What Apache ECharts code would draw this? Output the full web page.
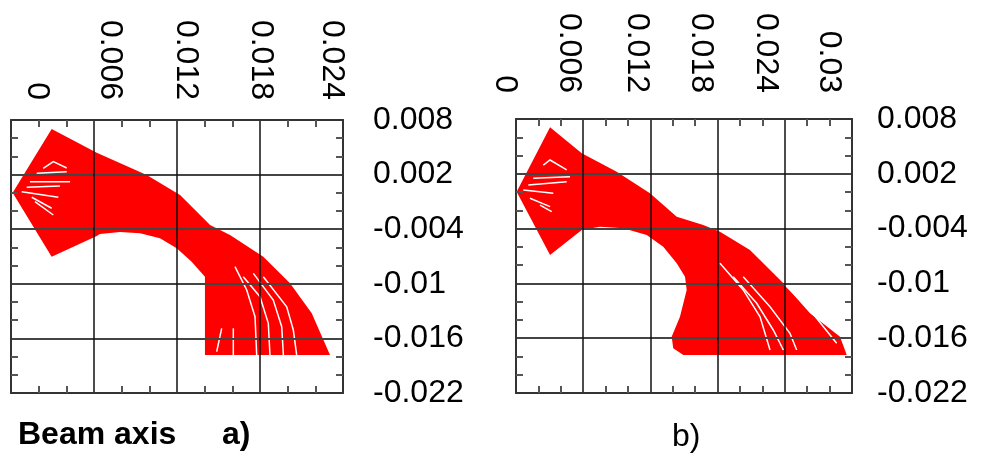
<!DOCTYPE html>
<html>
<head>
<meta charset="utf-8">
<script src="https://cdn.jsdelivr.net/npm/echarts@6/dist/echarts.min.js"></script>
<style>
  html, body { margin: 0; padding: 0; background: #fff; }
  #container { width: 982px; height: 462px; }
</style>
</head>
<body>
<div id="container"></div>
<script>
// tick labels
var xTicksA = [0, 0.006, 0.012, 0.018, 0.024];
var xTicksB = [0, 0.006, 0.012, 0.018, 0.024, 0.03];
var yTicks = [-0.022, -0.016, -0.01, -0.004, 0.002, 0.008];
var tickStep = 0.006;

// panel a) outline of the beam envelope [x, y]
var beamA = [
  [0.00012, 0.0000], [0.00294, 0.00701], [0.00620, 0.00441], [0.00981, 0.00196],
  [0.01222, -0.00024], [0.01439, -0.00354], [0.01583, -0.00464], [0.01824, -0.00702],
  [0.02017, -0.00995], [0.02174, -0.01324], [0.02306, -0.01782], [0.01402, -0.01782],
  [0.01402, -0.00922], [0.01306, -0.00757], [0.01198, -0.00610], [0.01077, -0.00500],
  [0.00933, -0.00445], [0.00788, -0.00431], [0.00643, -0.00453], [0.00620, -0.00475],
  [0.00294, -0.00702]
];
// panel a) gaps between trajectories
var streaksA = [
  [[0.00077, 0.00012], [0.00342, -0.00049]],
  [[0.00113, 0.00060], [0.00354, 0.00075]],
  [[0.00137, 0.00122], [0.00427, 0.00122]],
  [[0.00150, -0.00049], [0.00294, -0.00170]],
  [[0.00186, 0.00214], [0.00403, 0.00231]],
  [[0.00233, 0.00269], [0.00306, 0.00342], [0.00403, 0.00273]],
  [[0.00173, -0.00098], [0.00306, -0.00244]],
  [[0.01619, -0.00812], [0.01704, -0.01068], [0.01764, -0.01362], [0.01776, -0.01782]],
  [[0.01679, -0.00922], [0.01800, -0.01142], [0.01860, -0.01434], [0.01872, -0.01782]],
  [[0.01752, -0.00885], [0.01896, -0.01178], [0.01957, -0.01471], [0.01969, -0.01782]],
  [[0.01824, -0.00922], [0.01993, -0.01252], [0.02041, -0.01508], [0.02065, -0.01782]],
  [[0.01523, -0.01489], [0.01487, -0.01746]],
  [[0.01607, -0.01489], [0.01607, -0.01782]]
];

// panel b) outline of the beam envelope [x, y]
var beamB = [
  [0.00006, 0.00004], [0.00304, 0.00709], [0.00587, 0.00424], [0.00899, 0.00223],
  [0.01196, -0.00014], [0.01435, -0.00270], [0.01672, -0.00361], [0.01821, -0.00434],
  [0.02089, -0.00634], [0.02387, -0.00999], [0.02625, -0.01327], [0.02893, -0.01584],
  [0.02953, -0.01784], [0.01494, -0.01784], [0.01404, -0.01711], [0.01390, -0.01584],
  [0.01464, -0.01365], [0.01524, -0.01072], [0.01509, -0.00927], [0.01435, -0.00780],
  [0.01315, -0.00598], [0.01167, -0.00470], [0.00958, -0.00397], [0.00750, -0.00379],
  [0.00587, -0.00415], [0.00304, -0.00689]
];
var streaksB = [
  [[0.00065, 0.00023], [0.00333, -0.00014]],
  [[0.00110, 0.00077], [0.00453, 0.00113]],
  [[0.00154, 0.00151], [0.00482, 0.00168]],
  [[0.00125, -0.00068], [0.00304, -0.00160]],
  [[0.00214, -0.00142], [0.00319, -0.00215]],
  [[0.00244, 0.00296], [0.00304, 0.00351], [0.00453, 0.00242]],
  [[0.01821, -0.00780], [0.02029, -0.01072], [0.02179, -0.01365], [0.02268, -0.01729]],
  [[0.01940, -0.00927], [0.02149, -0.01218], [0.02297, -0.01510], [0.02387, -0.01729]],
  [[0.02029, -0.00927], [0.02268, -0.01255], [0.02446, -0.01546], [0.02506, -0.01729]],
  [[0.02387, -0.00999], [0.02625, -0.01291], [0.02863, -0.01656]]
];

// the original figure's top labels sit a little off their ticks (px, + is right)
var labelShiftA = [26, 16, 9, 1, -11];
var labelShiftB = [-11, -14, -14, -17, -19, -23];

var labelFont = '"Liberation Sans", Arial, sans-serif';
function fmt(v) { return String(+v.toFixed(3)); }

var frameLine = { show: true, onZero: false, lineStyle: { color: '#333', width: 2 } };
var minor = { show: true, splitNumber: 3, length: 7, lineStyle: { color: '#555', width: 2 } };

function xAxisTop(grid, ticks, margin, shifts) {
  var rich = {};
  shifts.forEach(function (s, i) {
    rich['t' + i] = { fontSize: 32, color: '#000', fontFamily: labelFont,
      padding: s > 0 ? [0, 0, 2 * s, 0] : [-2 * s, 0, 0, 0] };
  });
  return {
    type: 'value', gridIndex: grid, position: 'top',
    min: ticks[0], max: ticks[ticks.length - 1], interval: tickStep,
    axisLine: frameLine,
    axisTick: { show: false, inside: true },
    minorTick: minor,
    splitLine: { show: true, lineStyle: { color: '#111', width: 1.5 } },
    axisLabel: {
      rotate: 90, margin: margin,
      formatter: function (v, i) { return '{t' + i + '|' + fmt(v) + '}'; },
      rich: rich
    }
  };
}
function xAxisBottom(grid, ticks) {
  return {
    type: 'value', gridIndex: grid, position: 'bottom',
    min: ticks[0], max: ticks[ticks.length - 1], interval: tickStep,
    axisLine: frameLine,
    axisTick: { show: false, inside: true },
    minorTick: minor,
    splitLine: { show: false }, axisLabel: { show: false }
  };
}
function yAxisRight(grid, margin) {
  return {
    type: 'value', gridIndex: grid, position: 'right',
    min: yTicks[0], max: yTicks[yTicks.length - 1], interval: tickStep,
    axisLine: frameLine,
    axisTick: { show: false, inside: true },
    minorTick: minor,
    splitLine: { show: true, lineStyle: { color: '#444', width: 2 } },
    axisLabel: { margin: margin, formatter: fmt, fontSize: 32, color: '#000', fontFamily: labelFont }
  };
}
function yAxisLeft(grid) {
  return {
    type: 'value', gridIndex: grid, position: 'left',
    min: yTicks[0], max: yTicks[yTicks.length - 1], interval: tickStep,
    axisLine: frameLine,
    axisTick: { show: false, inside: true },
    minorTick: minor,
    splitLine: { show: false }, axisLabel: { show: false }
  };
}

function beamSeries(xi, yi, shape) {
  return {
    type: 'custom', xAxisIndex: xi, yAxisIndex: yi, z: -1, silent: true,
    data: [shape[0]],
    renderItem: function (params, api) {
      var pts = shape.map(function (p) { return api.coord(p); });
      return { type: 'polygon', shape: { points: pts }, style: { fill: '#ff0000' } };
    }
  };
}
function streakSeries(xi, yi, lines) {
  return {
    type: 'custom', xAxisIndex: xi, yAxisIndex: yi, z: -1, silent: true,
    data: lines.map(function (l) { return l[0]; }),
    renderItem: function (params, api) {
      var pts = lines[params.dataIndex].map(function (p) { return api.coord(p); });
      return { type: 'polyline', shape: { points: pts },
        style: { stroke: '#ffffff', lineWidth: 1.5, fill: null } };
    }
  };
}

var myChart = echarts.init(document.getElementById('container'));
var option = {
  animation: false,
  backgroundColor: '#fff',
  grid: [
    { left: 11, top: 120, width: 332, height: 273, outerBoundsMode: 'none' },
    { left: 516, top: 119, width: 336, height: 274, outerBoundsMode: 'none' }
  ],
  xAxis: [
    xAxisTop(0, xTicksA, 20, labelShiftA),
    xAxisBottom(0, xTicksA),
    xAxisTop(1, xTicksB, 26, labelShiftB),
    xAxisBottom(1, xTicksB)
  ],
  yAxis: [
    yAxisRight(0, 30),
    yAxisLeft(0),
    yAxisRight(1, 25),
    yAxisLeft(1)
  ],
  graphic: [
    { type: 'text', left: 18, top: 419, style: { text: 'Beam axis', font: 'bold 32px ' + labelFont, fill: '#000' } },
    { type: 'text', left: 222, top: 419, style: { text: 'a)', font: 'bold 32px ' + labelFont, fill: '#000' } },
    { type: 'text', left: 672, top: 421, style: { text: 'b)', font: '32px ' + labelFont, fill: '#000' } }
  ],
  series: [
    beamSeries(0, 0, beamA),
    streakSeries(0, 0, streaksA),
    beamSeries(2, 2, beamB),
    streakSeries(2, 2, streaksB)
  ]
};
myChart.setOption(option);
</script>
</body>
</html>
